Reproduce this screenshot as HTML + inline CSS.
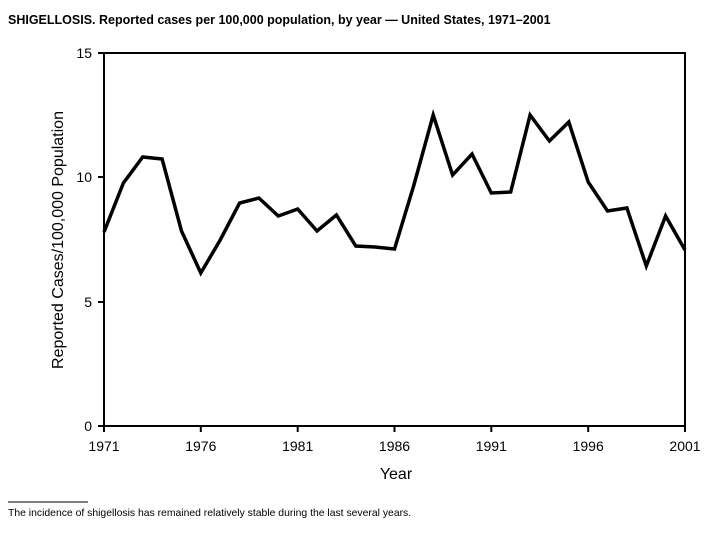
<!DOCTYPE html>
<html><head><meta charset="utf-8"><style>
body{margin:0;background:#fff;width:714px;height:530px;overflow:hidden;font-family:"Liberation Sans",sans-serif}
</style></head><body>
<svg width="714" height="530" xmlns="http://www.w3.org/2000/svg" font-family="Liberation Sans, sans-serif">
<text x="8" y="24" font-size="12.5" font-weight="bold">SHIGELLOSIS. Reported cases per 100,000 population, by year — United States, 1971–2001</text>
<rect x="104" y="53" width="581" height="373" fill="none" stroke="#000" stroke-width="2"/>
<g stroke="#000" stroke-width="2">
<line x1="98" y1="53" x2="104" y2="53"/><line x1="98" y1="177" x2="104" y2="177"/><line x1="98" y1="302" x2="104" y2="302"/><line x1="98" y1="426" x2="104" y2="426"/>
<line x1="104" y1="426" x2="104" y2="432"/><line x1="200.8" y1="426" x2="200.8" y2="432"/><line x1="297.7" y1="426" x2="297.7" y2="432"/><line x1="394.5" y1="426" x2="394.5" y2="432"/><line x1="491.3" y1="426" x2="491.3" y2="432"/><line x1="588.2" y1="426" x2="588.2" y2="432"/><line x1="685" y1="426" x2="685" y2="432"/>
</g>
<g font-size="14" text-anchor="end">
<text x="92" y="58">15</text><text x="92" y="182">10</text><text x="92" y="307">5</text><text x="92" y="431">0</text>
</g>
<g font-size="14" text-anchor="middle">
<text x="104" y="451">1971</text><text x="200.8" y="451">1976</text><text x="297.7" y="451">1981</text><text x="394.5" y="451">1986</text><text x="491.3" y="451">1991</text><text x="588.2" y="451">1996</text><text x="685" y="451">2001</text>
<text x="396" y="479" font-size="16">Year</text>
<text transform="translate(63,240) rotate(-90)" font-size="16">Reported Cases/100,000 Population</text>
</g>
<polyline fill="none" stroke="#000" stroke-width="3.5" stroke-linejoin="miter" points="104,232 123.4,183 142.7,157 162.1,159 181.5,231 200.8,273 220.2,240 239.6,203 258.9,198 278.3,216 297.7,209 317,231 336.4,215 355.8,246 375.1,247 394.5,249 413.9,185 433.2,115 452.6,175 472,154 491.3,193 510.7,192 530.1,115 549.4,141 568.8,122 588.2,182 607.5,211 626.9,208 646.3,266 665.6,216 685,250"/>
<line x1="8" y1="502" x2="88" y2="502" stroke="#000" stroke-width="1"/>
<text x="8" y="516" font-size="10.4">The incidence of shigellosis has remained relatively stable during the last several years.</text>
</svg>
</body></html>
